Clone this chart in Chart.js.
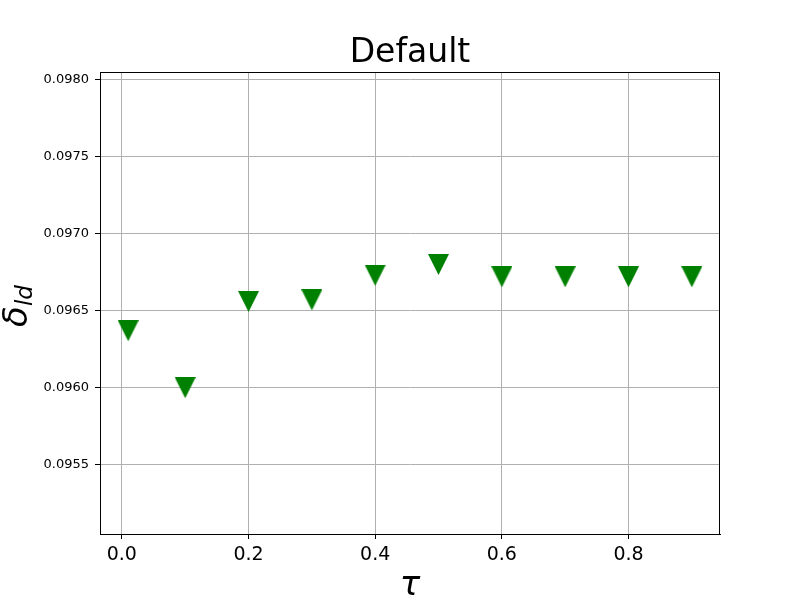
<!DOCTYPE html>
<html>
<head>
<meta charset="utf-8">
<script src="https://cdn.jsdelivr.net/npm/chart.js@4"></script>
<style>
  html, body { margin: 0; padding: 0; background: #fff; }
  #wrap { width: 800px; height: 600px; }
</style>
</head>
<body>
<div id="wrap"><canvas id="chart" width="800" height="600"></canvas></div>
<script>
// ---- Data ----
const tauValues   = [0.01, 0.1, 0.2, 0.3, 0.4, 0.5, 0.6, 0.7, 0.8, 0.9];
const deltaValues = [0.09637, 0.09600, 0.09656, 0.09657, 0.09673, 0.09680, 0.09672, 0.09672, 0.09672, 0.09672];
const xTicks      = [0.0, 0.2, 0.4, 0.6, 0.8];
const yTicks      = [0.0955, 0.0960, 0.0965, 0.0970, 0.0975, 0.0980];

const FONT = "'DejaVu Sans', sans-serif";

// ---- Down-pointing triangle marker (centred on its bounding box, like matplotlib 'v') ----
function makeTriangle(size, color) {
  const c = document.createElement('canvas');
  c.width = size; c.height = size;
  const g = c.getContext('2d');
  g.fillStyle = color;
  g.beginPath();
  g.moveTo(0, 0);
  g.lineTo(size, 0);
  g.lineTo(size / 2, size);
  g.closePath();
  g.fill();
  return c;
}
const marker = makeTriangle(21, '#008000');

// ---- Title, axis labels and frame ----
const decorPlugin = {
  id: 'decor',
  afterDraw: function (chart) {
    const ctx  = chart.ctx;
    const area = chart.chartArea;
    const cx   = (area.left + area.right) / 2;
    const cy   = (area.top + area.bottom) / 2;

    ctx.save();
    // frame
    ctx.strokeStyle = '#000';
    ctx.lineWidth = 1;
    ctx.strokeRect(Math.round(area.left) + 0.5, Math.round(area.top) + 0.5,
                   Math.round(area.right - area.left) - 1, Math.round(area.bottom - area.top));

    ctx.fillStyle = '#000';
    // title
    ctx.font = '33px ' + FONT;
    ctx.textAlign = 'center';
    ctx.textBaseline = 'alphabetic';
    ctx.fillText('Default', cx, 62);

    // x label
    ctx.font = 'italic 34px ' + FONT;
    ctx.fillText('τ', cx, 595);

    // y label: δ with subscript ld, rotated
    ctx.translate(27, cy + 3);
    ctx.rotate(-Math.PI / 2);
    ctx.font = 'italic 34px ' + FONT;
    const wMain = ctx.measureText('δ').width;
    ctx.font = 'italic 23px ' + FONT;
    const wSub = ctx.measureText('ld').width;
    const start = -(wMain + wSub) / 2;
    ctx.textAlign = 'left';
    ctx.font = 'italic 34px ' + FONT;
    ctx.fillText('δ', start, 0);
    ctx.font = 'italic 23px ' + FONT;
    ctx.fillText('ld', start + wMain, 5);
    ctx.restore();
  }
};

new Chart(document.getElementById('chart').getContext('2d'), {
  type: 'scatter',
  data: {
    datasets: [{
      label: 'delta',
      data: tauValues.map(function (t, i) { return { x: t, y: deltaValues[i] }; }),
      pointStyle: marker,
      pointRadius: 11,
      showLine: false
    }]
  },
  options: {
    responsive: false,
    animation: false,
    layout: { padding: { left: 0, top: 72, right: 80, bottom: 0 } },
    plugins: {
      legend: { display: false },
      tooltip: { enabled: false }
    },
    scales: {
      x: {
        type: 'linear',
        min: -0.0345,
        max: 0.9445,
        afterBuildTicks: function (scale) {
          scale.ticks = xTicks.map(function (v) { return { value: v }; });
        },
        afterFit: function (scale) { scale.height = 66; },
        grid: { color: '#b0b0b0', tickColor: '#000', tickLength: 5, lineWidth: 1 },
        border: { display: true, color: '#000', width: 1 },
        ticks: {
          color: '#000',
          padding: 5,
          maxRotation: 0,
          font: { family: FONT, size: 19 },
          callback: function (v) { return v.toFixed(1); }
        }
      },
      y: {
        type: 'linear',
        min: 0.09505,
        max: 0.09805,
        afterBuildTicks: function (scale) {
          scale.ticks = yTicks.map(function (v) { return { value: v }; });
        },
        afterFit: function (scale) { scale.width = 100; },
        grid: { color: '#b0b0b0', tickColor: '#000', tickLength: 5, lineWidth: 1 },
        border: { display: true, color: '#000', width: 1 },
        ticks: {
          color: '#000',
          padding: 6,
          font: { family: FONT, size: 13 },
          callback: function (v) { return v.toFixed(4); }
        }
      }
    }
  },
  plugins: [decorPlugin]
});
</script>
</body>
</html>
